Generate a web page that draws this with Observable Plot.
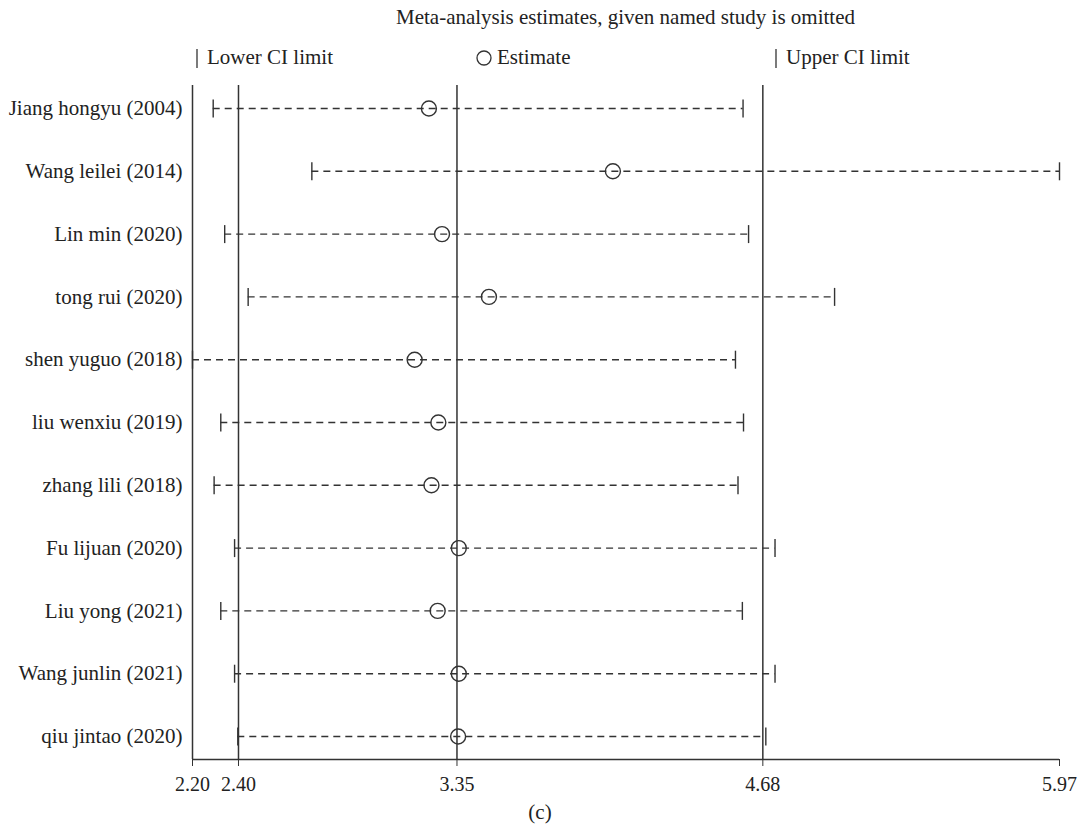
<!DOCTYPE html>
<html>
<head>
<meta charset="utf-8">
<script src="https://cdn.jsdelivr.net/npm/d3@7"></script>
<script src="https://cdn.jsdelivr.net/npm/@observablehq/plot@0.6"></script>
<style>
  body { margin: 0; background: #fff; }
  #wrap { position: relative; width: 1080px; height: 833px; font-family: "Liberation Serif", serif; color: #222; font-size: 21px; }
  .abs { position: absolute; white-space: nowrap; line-height: 1; }
</style>
</head>
<body>
<div id="wrap"></div>
<script>
// Data
const studies = ["Jiang hongyu (2004)", "Wang leilei (2014)", "Lin min (2020)", "tong rui (2020)", "shen yuguo (2018)", "liu wenxiu (2019)", "zhang lili (2018)", "Fu lijuan (2020)", "Liu yong (2021)", "Wang junlin (2021)", "qiu jintao (2020)"];
const lower    = [2.290, 2.719, 2.340, 2.442, 2.200, 2.323, 2.294, 2.383, 2.323, 2.383, 2.397];
const estimate = [3.228, 4.028, 3.285, 3.489, 3.166, 3.269, 3.239, 3.358, 3.266, 3.358, 3.355];
const upper    = [4.594, 5.970, 4.618, 4.992, 4.561, 4.596, 4.572, 4.733, 4.591, 4.733, 4.693];
const overall  = [2.40, 3.35, 4.68];          // combined lower CI, estimate, upper CI
const xTicks   = [2.20, 2.40, 3.35, 4.68, 5.97];
const xDomain  = [2.20, 5.97];
const titleText = "Meta-analysis estimates, given named study is omitted";
const legendLabels = ["Lower CI limit", "Estimate", "Upper CI limit"];
const captionText = "(c)";

const rows = studies.map((s, i) => ({study: s, i, lower: lower[i], est: estimate[i], upper: upper[i]}));
const pad = 0.366;
const yDomain = [studies.length - 1 + pad, -pad];

const barSymbol = {
  draw(ctx, size) {
    const h = Math.sqrt(size / Math.PI);
    ctx.moveTo(0, -h);
    ctx.lineTo(0, h);
  }
};

const ink = "#333";

const chart = Plot.plot({
  width: 1080,
  height: 833,
  marginTop: 85,
  marginBottom: 74,
  marginLeft: 192,
  marginRight: 21,
  style: {fontFamily: "Liberation Serif, serif", fontSize: "20px", color: "#222", background: "transparent"},
  x: {domain: xDomain},
  y: {domain: yDomain},
  marks: [
    Plot.ruleY(rows, {y: "i", x1: "lower", x2: "upper", stroke: "#333", strokeWidth: 1.4, strokeDasharray: "7,5"}),
    Plot.ruleX([xDomain[0]], {stroke: ink, strokeWidth: 1.5}),
    Plot.ruleX(overall, {stroke: ink, strokeWidth: 1.5}),
    Plot.ruleY([yDomain[0]], {stroke: ink, strokeWidth: 1.5}),
    Plot.dot(rows, {x: "lower", y: "i", symbol: barSymbol, r: 9, stroke: ink, fill: "none", strokeWidth: 1.4}),
    Plot.dot(rows, {x: "upper", y: "i", symbol: barSymbol, r: 9, stroke: ink, fill: "none", strokeWidth: 1.4}),
    Plot.dot(rows, {x: "est", y: "i", r: 7.5, stroke: ink, fill: "none", strokeWidth: 1.4}),
    Plot.axisX({ticks: xTicks, tickFormat: d3.format(".2f"), tickSize: 7, tickPadding: 10, stroke: ink, label: null}),
    Plot.axisY({ticks: d3.range(studies.length), tickFormat: i => studies[i], tickSize: 0, tickPadding: 10, fontSize: 21, label: null})
  ]
});
chart.style.position = "absolute";
chart.style.left = "0px";
chart.style.top = "0px";

const wrap = document.getElementById("wrap");
wrap.appendChild(chart);

function addText(txt, left, top, extra) {
  const d = document.createElement("div");
  d.className = "abs";
  d.textContent = txt;
  d.style.left = left + "px";
  d.style.top = top + "px";
  if (extra) Object.assign(d.style, extra);
  wrap.appendChild(d);
  return d;
}
const bar = '<svg width="6" height="20" style="vertical-align:-4px;margin-right:6px"><line x1="2" x2="2" y1="1" y2="20" stroke="#333" stroke-width="1.3"/></svg>';
const circ = '<svg width="16" height="16" style="vertical-align:-2px;margin-right:5px"><circle cx="8" cy="8" r="7" fill="none" stroke="#333" stroke-width="1.3"/></svg>';
// title centered over plot area
addText(titleText, 192, 7, {width: (1059 - 192) + "px", textAlign: "center"});
// legend
addText("", 195, 47).innerHTML = bar + legendLabels[0];
addText("", 476, 47).innerHTML = circ + legendLabels[1];
addText("", 774, 47).innerHTML = bar + legendLabels[2];
// caption
addText(captionText, 0, 802, {width: "1080px", textAlign: "center"});
</script>
</body>
</html>
